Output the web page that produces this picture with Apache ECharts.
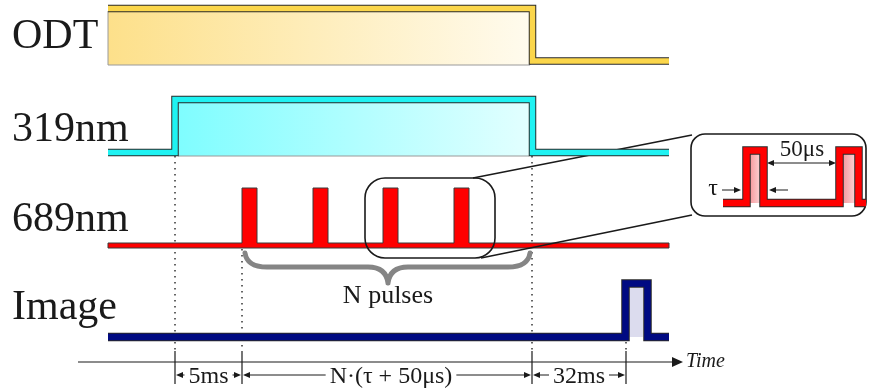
<!DOCTYPE html>
<html><head><meta charset="utf-8">
<script src="https://cdn.jsdelivr.net/npm/echarts@6/dist/echarts.min.js"></script>
<style>html,body{margin:0;padding:0;background:#fff}#c{width:869px;height:389px}</style>
</head><body><div id="c"></div>
<script>
// ---- diagram data (time axis in diagram units, levels in diagram units) ----
const channelLabels = ['ODT', '319nm', '689nm', 'Image'];
const channelLabelY = [37, 130, 220, 308];

const odtTrace   = [[108, 8.5], [532.5, 8.5], [532.5, 61], [669, 61]];
const uvTrace    = [[108, 152.5], [175, 152.5], [175, 99.5], [532.5, 99.5], [532.5, 152.5], [669, 152.5]];
const imageTrace = [[108, 337], [625.5, 337], [625.5, 283.5], [647.5, 283.5], [647.5, 337], [669, 337]];

const redStart = 108, redEnd = 669, redLow = 243, redLowBottom = 248;
const redPulseStarts = [242, 313, 383, 454];
const redPulseWidth = 15, redPulseTop = 188;

const insetTrace = [[723, 203], [746.5, 203], [746.5, 150.5], [763.5, 150.5], [763.5, 203],
                    [839.5, 203], [839.5, 150.5], [858.5, 150.5], [858.5, 203], [866, 203]];
const insetFills = [[750, 760, 154, 203], [843, 855, 154, 203]];

const odtFill   = [108, 530, 11, 65];
const uvFill    = [178, 529, 103, 156];
const imageFill = [629, 643, 288, 337];

const markerTimes = [175, 242, 532, 626];
const markerTopY  = [156, 249, 156, 342];
const intervalLabels = ['5ms', 'N·(τ + 50μs)', '32ms'];

const zoomBox = [365, 178, 495, 258];
const insetBox = [691, 134, 866, 216];
const braceSpan = [245, 530, 253, 267, 388, 283];

const SERIF = "'Liberation Serif', 'DejaVu Serif', serif";
const INK = '#1a1a1a';

function custom(build, z) {
  return {
    type: 'custom', coordinateSystem: 'cartesian2d', data: [[0, 0]], silent: true, z: z || 2,
    renderItem: (params, api) => ({ type: 'group', children: build(p => api.coord(p)) })
  };
}
function line(P, a, b, style) {
  const A = P(a), B = P(b);
  return { type: 'line', shape: { x1: A[0], y1: A[1], x2: B[0], y2: B[1] }, style: Object.assign({ stroke: INK, lineWidth: 1 }, style) };
}
function tri(P, pts, fill) {
  return { type: 'polygon', shape: { points: pts.map(P) }, style: { fill: fill || INK } };
}
function rectEl(P, f, style) {
  const A = P([f[0], f[2]]), B = P([f[1], f[3]]);
  return { type: 'rect', shape: { x: A[0], y: A[1], width: B[0] - A[0], height: B[1] - A[1] }, style };
}
function arrowH(P, x1, x2, y) { // arrowhead at x2
  const d = x2 > x1 ? 1 : -1;
  return [line(P, [x1, y], [x2 - d * 5, y], { lineWidth: 1 }),
          tri(P, [[x2, y], [x2 - d * 7, y - 3], [x2 - d * 7, y + 3]])];
}
function text(P, x, y, s, opt) {
  const A = P([x, y]);
  return { type: 'text', x: A[0], y: A[1], style: Object.assign({ text: s, fontFamily: SERIF, fontSize: 24, fill: INK, align: 'center', verticalAlign: 'middle' }, opt) };
}
function traceSeries(data, color, w) {
  return [
    { type: 'line', data, symbol: 'none', silent: true, animation: false, lineStyle: { width: w + 2, color: '#2a2a2a', join: 'miter', cap: 'butt' } },
    { type: 'line', data, symbol: 'none', silent: true, animation: false, lineStyle: { width: w, color, join: 'miter', cap: 'butt' } }
  ];
}

const series = [];

// fills
series.push(custom(P => [
  rectEl(P, odtFill, { fill: new echarts.graphic.LinearGradient(0, 0, 1, 0, [{ offset: 0, color: '#fde08a' }, { offset: 1, color: '#fffbee' }]), stroke: '#9a9a9a', lineWidth: 1 }),
  rectEl(P, uvFill, { fill: new echarts.graphic.LinearGradient(0, 0, 1, 0, [{ offset: 0, color: '#7ffdff' }, { offset: 1, color: '#e2ffff' }]) }),
  line(P, [uvFill[0], uvFill[3]], [uvFill[1], uvFill[3]], { stroke: '#9a9a9a' }),
  rectEl(P, imageFill, { fill: '#dcdcee' }),
  ...insetFills.map(f => rectEl(P, f, { fill: new echarts.graphic.LinearGradient(0, 0, 1, 0, [{ offset: 0, color: '#f59a9e' }, { offset: 1, color: '#fbd0d2' }]) }))
]));

// dotted guides and marker ticks, time axis, interval annotations
series.push(custom(P => {
  const els = [];
  markerTimes.forEach((t, i) => {
    els.push(line(P, [t, markerTopY[i]], [t, 351], { stroke: '#333', lineWidth: 1.5, lineDash: [1.5, 4.5] }));
    els.push(line(P, [t, 351], [t, 384], { stroke: INK, lineWidth: 1.2 }));
  });
  els.push(line(P, [78, 362], [674, 362], { lineWidth: 1.1 }));
  els.push(tri(P, [[683, 362], [672, 357], [672, 367]]));
  els.push(text(P, 686, 362, 'Time', { fontSize: 20, fontStyle: 'italic', align: 'left' }));
  for (let i = 0; i < intervalLabels.length; i++) {
    const a = markerTimes[i], b = markerTimes[i + 1], m = (a + b) / 2;
    els.push(...arrowH(P, m, a + 1, 375), ...arrowH(P, m, b - 1, 375));
    els.push(text(P, m + (i === 1 ? 4 : 0), 377, intervalLabels[i], { fontSize: 24, backgroundColor: '#fff', padding: [0, 4] }));
  }
  return els;
}));

// traces
series.push(...traceSeries(odtTrace, '#fbd64b', 5.5));
series.push(...traceSeries(uvTrace, '#1ff2f2', 5.5));
series.push(...traceSeries(imageTrace, '#000a82', 6.5));

// 689 nm pulse train as outline polygon
series.push(custom(P => {
  const pts = [[redStart, redLow]];
  redPulseStarts.forEach(s => {
    pts.push([s, redLow], [s, redPulseTop], [s + redPulseWidth, redPulseTop], [s + redPulseWidth, redLow]);
  });
  pts.push([redEnd, redLow], [redEnd, redLowBottom], [redStart, redLowBottom]);
  return [{ type: 'polygon', shape: { points: pts.map(P) }, style: { fill: '#ff0000', stroke: '#3a3a3a', lineWidth: 1 } }];
}));

// brace, zoom box, zoom lines, inset box
series.push(custom(P => {
  const [x0, x1, yt, ym, tx, ty] = braceSpan;
  const q = v => P(v).map(n => n.toFixed(1)).join(' ');
  const d = `M ${q([x0, yt])} Q ${q([x0 + 2, ym])} ${q([x0 + 22, ym])} L ${q([tx - 20, ym])} Q ${q([tx - 2, ym])} ${q([tx, ty])} ` +
            `M ${q([tx, ty])} Q ${q([tx + 2, ym])} ${q([tx + 20, ym])} L ${q([x1 - 22, ym])} Q ${q([x1 - 2, ym])} ${q([x1, yt])}`;
  const A = P([zoomBox[0], zoomBox[1]]), B = P([zoomBox[2], zoomBox[3]]);
  const C = P([insetBox[0], insetBox[1]]), D = P([insetBox[2], insetBox[3]]);
  return [
    { type: 'path', shape: { pathData: d }, style: { stroke: '#858585', lineWidth: 5, fill: null, lineCap: 'round', lineJoin: 'round' } },
    { type: 'rect', shape: { x: A[0], y: A[1], width: B[0] - A[0], height: B[1] - A[1], r: 20 }, style: { fill: null, stroke: INK, lineWidth: 1.6 } },
    line(P, [473, 178], [insetBox[0] + 1, insetBox[1] + 1], { lineWidth: 1.6 }),
    line(P, [481, 258], [insetBox[0] + 1, insetBox[3] - 1], { lineWidth: 1.6 }),
    { type: 'rect', shape: { x: C[0], y: C[1], width: D[0] - C[0], height: D[1] - C[1], r: 14 }, style: { fill: '#fff', stroke: INK, lineWidth: 1.6 } },
    text(P, 388, 296, 'N pulses', { fontSize: 26 })
  ];
}, 2));

// inset fills (over box background) and trace
series.push(custom(P => insetFills.map(f => rectEl(P, f, { fill: new echarts.graphic.LinearGradient(0, 0, 1, 0, [{ offset: 0, color: '#f59a9e' }, { offset: 1, color: '#fbd0d2' }]) }))));
series.push(...traceSeries(insetTrace, '#ff0000', 6.5));

// inset annotations and channel labels
series.push(custom(P => [
  text(P, 802, 150, '50μs', { fontSize: 23 }),
  line(P, [771, 163], [832, 163], { lineWidth: 1 }),
  tri(P, [[767, 163], [774, 160], [774, 166]]),
  tri(P, [[836, 163], [829, 160], [829, 166]]),
  text(P, 713, 189, 'τ', { fontSize: 24 }),
  ...arrowH(P, 722, 741, 190),
  ...arrowH(P, 788, 769, 190),
  ...channelLabels.map((s, i) => text(P, 12, channelLabelY[i], s, { fontSize: 42, align: 'left' }))
]));

const chart = echarts.init(document.getElementById('c'), null, { renderer: 'canvas' });
chart.setOption({
  animation: false,
  backgroundColor: '#fff',
  grid: { left: 0, right: 0, top: 0, bottom: 0 },
  xAxis: { type: 'value', min: 0, max: 869, show: false },
  yAxis: { type: 'value', min: 0, max: 389, inverse: true, show: false },
  series
});
</script></body></html>
